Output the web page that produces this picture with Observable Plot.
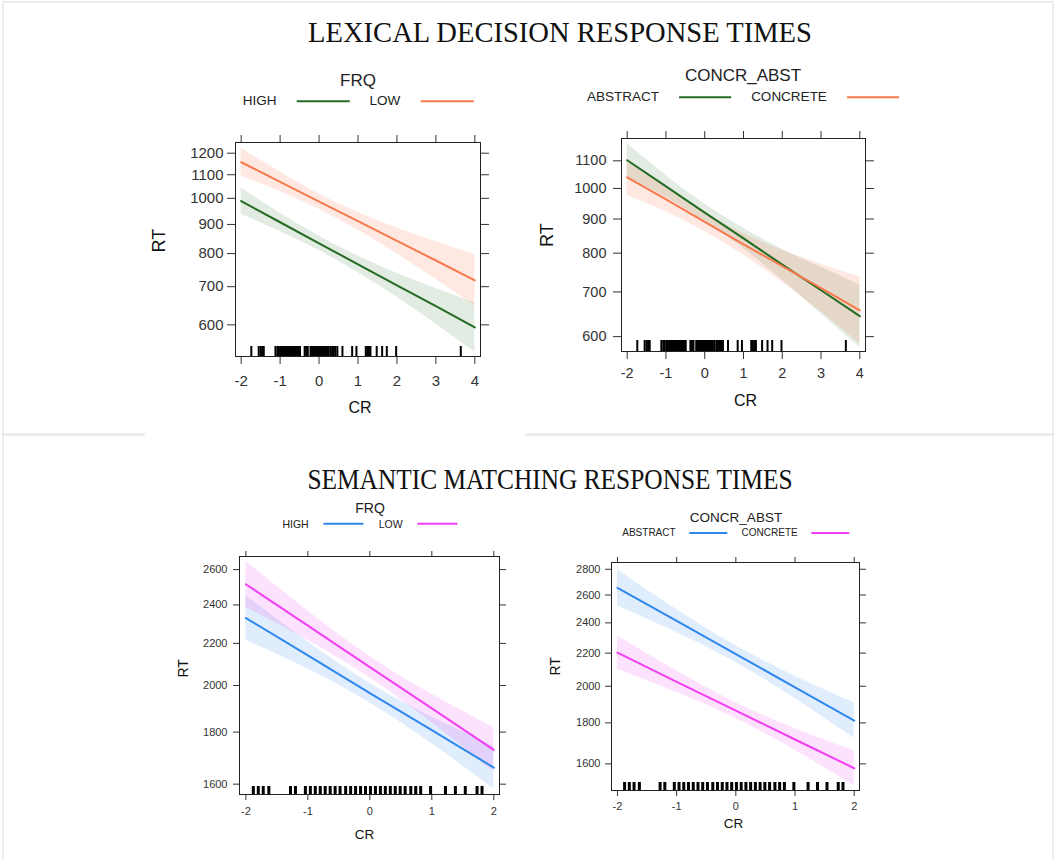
<!DOCTYPE html>
<html><head><meta charset="utf-8">
<script src="https://cdn.jsdelivr.net/npm/d3@7"></script>
<script src="https://cdn.jsdelivr.net/npm/@observablehq/plot@0.6"></script>
<style>
body{margin:0;background:#fff;}
#root{position:relative;width:1055px;height:859px;overflow:hidden;font-family:"Liberation Sans",Arial,sans-serif;color:#333;}
.abs{position:absolute;}
.title{font-family:"Liberation Serif","Times New Roman",serif;color:#111;white-space:nowrap;line-height:1;}
.lgt{white-space:nowrap;transform:translate(-50%,-50%);line-height:1;color:#222;}
.lgr{display:flex;align-items:center;white-space:nowrap;transform:translate(-50%,-50%);line-height:1;color:#222;}
.sw{display:inline-block;height:2px;}
</style></head>
<body><div id="root"></div>
<script>
// ---------- DATA ----------
const lexX = [-2, -1, 0, 1, 2, 3, 4];
const lexXTicks = [-2, -1, 0, 1, 2, 3, 4];
const lexFrqYTicks = [600, 700, 800, 900, 1000, 1100, 1200];
const lexCaYTicks = [600, 700, 800, 900, 1000, 1100];

const lexFrqHighFit = [989, 908, 834, 766, 704, 647, 594];
const lexFrqHighLo  = [938, 875, 810, 741, 671, 602, 537];
const lexFrqHighHi  = [1043, 942, 859, 792, 739, 695, 656];
const lexFrqLowFit  = [1157, 1069, 987, 912, 842, 778, 718];
const lexFrqLowLo   = [1094, 1028, 957, 880, 799, 721, 648];
const lexFrqLowHi   = [1224, 1112, 1018, 945, 887, 839, 796];

const lexCaAbsFit = [1102, 1007, 920, 842, 769, 704, 644];
const lexCaAbsLo  = [1041, 969, 893, 813, 729, 650, 578];
const lexCaAbsHi  = [1167, 1046, 948, 872, 811, 762, 717];
const lexCaConFit = [1039, 963, 891, 825, 765, 709, 657];
const lexCaConLo  = [977, 923, 862, 795, 724, 653, 586];
const lexCaConHi  = [1105, 1004, 921, 856, 808, 770, 737];

const lexRugCR = [-1.74, -1.55, -1.5, -1.46, -1.42, -1.12, -1.07, -1.03, -0.98, -0.95, -0.91, -0.88, -0.86, -0.83, -0.8, -0.78, -0.75, -0.72, -0.69, -0.66, -0.63, -0.6, -0.57, -0.54, -0.52, -0.49, -0.37, -0.33, -0.29, -0.22, -0.19, -0.16, -0.13, -0.1, -0.07, -0.05, -0.02, 0.01, 0.04, 0.07, 0.1, 0.12, 0.15, 0.18, 0.21, 0.25, 0.3, 0.34, 0.38, 0.42, 0.47, 0.6, 0.85, 0.96, 1.2, 1.24, 1.28, 1.32, 1.48, 1.62, 1.74, 1.98, 3.64];

const semX = [-2, -1, 0, 1, 2];
const semXTicks = [-2, -1, 0, 1, 2];
const semFrqYTicks = [1600, 1800, 2000, 2200, 2400, 2600];
const semCaYTicks = [1600, 1800, 2000, 2200, 2400, 2600, 2800];

const semFrqHighFit = [2330, 2141, 1966, 1808, 1661];
const semFrqHighLo  = [2216, 2076, 1923, 1754, 1583];
const semFrqHighHi  = [2450, 2208, 2010, 1863, 1743];
const semFrqLowFit  = [2515, 2290, 2085, 1899, 1729];
const semFrqLowLo   = [2388, 2216, 2036, 1839, 1645];
const semFrqLowHi   = [2649, 2367, 2136, 1961, 1818];

const semCaAbsFit = [2655, 2413, 2194, 1994, 1812];
const semCaAbsLo  = [2520, 2335, 2142, 1931, 1722];
const semCaAbsHi  = [2797, 2494, 2247, 2059, 1907];
const semCaConFit = [2203, 2026, 1865, 1716, 1580];
const semCaConLo  = [2100, 1964, 1823, 1664, 1503];
const semCaConHi  = [2311, 2090, 1908, 1770, 1661];

const semRugCR = [-1.88, -1.80, -1.72, -1.63, -1.28, -1.20, -1.04, -0.96, -0.88, -0.80, -0.72, -0.64, -0.56, -0.48, -0.39, -0.31, -0.23, -0.15, -0.07, 0.01, 0.09, 0.17, 0.25, 0.33, 0.41, 0.49, 0.57, 0.66, 0.74, 0.82, 0.98, 1.22, 1.38, 1.54, 1.73, 1.81];

const green = "#236b23", orange = "#f7794c", blue = "#2e88ee", magenta = "#f23ff2";

// ---------- LAYOUT ----------
const root = document.getElementById("root");
function div(cls, css, html) {
  const d = document.createElement("div");
  d.className = cls;
  Object.assign(d.style, css);
  if (html != null) d.innerHTML = html;
  root.appendChild(d);
  return d;
}
// page frames
div("abs", {left:"2px", top:"1px", width:"1052px", height:"434px", border:"2px solid #ececec", boxSizing:"border-box"});
div("abs", {left:"2px", top:"434px", width:"1052px", height:"440px", border:"2px solid #ececec", boxSizing:"border-box"});
div("abs", {left:"145px", top:"433px", width:"380px", height:"3px", background:"#fff"});

div("abs title", {left:"560px", top:"32px", fontSize:"29px", transform:"translate(-50%,-50%) scaleX(0.985)"}, "LEXICAL DECISION RESPONSE TIMES");
div("abs title", {left:"550px", top:"479px", fontSize:"29px", transform:"translate(-50%,-50%) scaleX(0.875)"}, "SEMANTIC MATCHING RESPONSE TIMES");

function legend(o) {
  div("abs lgt", {left:o.cx+"px", top:o.titleY+"px", fontSize:o.titleSize+"px"}, o.title);
  const row = div("abs lgr", {left:o.cx+"px", top:o.rowY+"px", fontSize:o.labelSize+"px"});
  o.items.forEach((it, i) => {
    const s = document.createElement("span"); s.textContent = it.label; row.appendChild(s);
    const w = document.createElement("span"); w.className = "sw";
    Object.assign(w.style, {width:o.lineW+"px", background:it.color, marginLeft:o.gap+"px", marginRight:(i < o.items.length-1 ? o.gap : 0)+"px"});
    row.appendChild(w);
  });
}

function panel(c) {
  const [fx, fy, fw, fh] = c.frame;
  const mL = 110, mR = 30, mT = 20, mB = 80;
  const marks = [];
  c.series.forEach(s => {
    const d = c.x.map((x, i) => ({x, lo: s.lo[i], hi: s.hi[i]}));
    marks.push(Plot.areaY(d, {x: "x", y1: "lo", y2: "hi", fill: s.color, fillOpacity: s.op, curve: "natural", clip: true}));
  });
  c.series.forEach(s => {
    const d = c.x.map((x, i) => ({x, y: s.fit[i]}));
    marks.push(Plot.lineY(d, {x: "x", y: "y", stroke: s.color, strokeWidth: 2, clip: true}));
  });
  marks.push(Plot.ruleX(c.rug, {x: d => d, insetTop: fh - c.rugH, stroke: "#000", strokeWidth: c.rugW}));
  marks.push(Plot.axisX({anchor: "bottom", ticks: c.xTicks, tickSize: c.tick, tickPadding: c.xPad, tickFormat: d => String(d), label: null, fontSize: c.fs}));
  marks.push(Plot.axisX({anchor: "top", ticks: c.xTicks, tickSize: c.tick, tickFormat: () => "", label: null}));
  marks.push(Plot.axisY({anchor: "left", ticks: c.yTicks, tickSize: c.tick, tickPadding: c.yPad, tickFormat: d => String(d), label: null, fontSize: c.fs}));
  marks.push(Plot.axisY({anchor: "right", ticks: c.yTicks, tickSize: c.tick, tickFormat: () => "", label: null}));
  marks.push(Plot.frame({stroke: "#222"}));
  marks.push(Plot.text(["RT"], {text: d => d, frameAnchor: "left", dx: c.rt[0], dy: c.rt[1], rotate: -90, fontSize: c.rfs, fill: "#111"}));
  marks.push(Plot.text(["CR"], {text: d => d, frameAnchor: "bottom", dx: c.cr[0], dy: c.cr[1], fontSize: c.lfs, fill: "#111"}));
  const svg = Plot.plot({
    width: fw + mL + mR, height: fh + mT + mB,
    marginLeft: mL, marginRight: mR, marginTop: mT, marginBottom: mB,
    x: {domain: c.xDomain},
    y: {type: "log", domain: c.yDomain},
    style: {fontFamily: "'Liberation Sans', Arial, sans-serif", color: "#333", background: "transparent", overflow: "visible"},
    marks
  });
  svg.style.position = "absolute";
  svg.style.left = (fx - mL) + "px";
  svg.style.top = (fy - mT) + "px";
  root.appendChild(svg);
}

// Top-left: lexical, FRQ
legend({cx: 358, titleY: 80, rowY: 101, title: "FRQ", titleSize: 17, labelSize: 13.5, lineW: 53, gap: 20,
  items: [{label: "HIGH", color: green}, {label: "LOW", color: orange}]});
panel({frame: [235, 142, 245, 214], x: lexX, xDomain: [-2.146, 4.146], yDomain: [528, 1253],
  xTicks: lexXTicks, yTicks: lexFrqYTicks, tick: 8, xPad: 11, yPad: 4, fs: 15, lfs: 16, rfs: 18,
  rt: [-76, 3], cr: [2, 56], rug: lexRugCR, rugH: 10, rugW: 2,
  series: [
    {fit: lexFrqHighFit, lo: lexFrqHighLo, hi: lexFrqHighHi, color: green, op: 0.13},
    {fit: lexFrqLowFit, lo: lexFrqLowLo, hi: lexFrqLowHi, color: orange, op: 0.17}
  ]});

// Top-right: lexical, CONCR_ABST
legend({cx: 743, titleY: 75, rowY: 97, title: "CONCR_ABST", titleSize: 17, labelSize: 13.5, lineW: 52, gap: 20,
  items: [{label: "ABSTRACT", color: green}, {label: "CONCRETE", color: orange}]});
panel({frame: [621, 138, 244, 213], x: lexX, xDomain: [-2.147, 4.147], yDomain: [570, 1188],
  xTicks: lexXTicks, yTicks: lexCaYTicks, tick: 8, xPad: 8, yPad: 7, fs: 14.5, lfs: 16, rfs: 18,
  rt: [-74, 2], cr: [2, 54], rug: lexRugCR, rugH: 11, rugW: 2,
  series: [
    {fit: lexCaAbsFit, lo: lexCaAbsLo, hi: lexCaAbsHi, color: green, op: 0.13},
    {fit: lexCaConFit, lo: lexCaConLo, hi: lexCaConHi, color: orange, op: 0.17}
  ]});

// Bottom-left: semantic, FRQ
legend({cx: 370, titleY: 508, rowY: 524, title: "FRQ", titleSize: 14, labelSize: 10.5, lineW: 40, gap: 15,
  items: [{label: "HIGH", color: blue}, {label: "LOW", color: magenta}]});
panel({frame: [239, 556, 260, 238], x: semX, xDomain: [-2.103, 2.092], yDomain: [1563, 2678],
  xTicks: semXTicks, yTicks: semFrqYTicks, tick: 6, xPad: 7, yPad: 6, fs: 11, lfs: 13.5, rfs: 14,
  rt: [-56, 2], cr: [-5, 44], rug: semRugCR, rugH: 8, rugW: 3,
  series: [
    {fit: semFrqHighFit, lo: semFrqHighLo, hi: semFrqHighHi, color: blue, op: 0.15},
    {fit: semFrqLowFit, lo: semFrqLowLo, hi: semFrqLowHi, color: magenta, op: 0.15}
  ]});

// Bottom-right: semantic, CONCR_ABST
legend({cx: 736, titleY: 518, rowY: 533, title: "CONCR_ABST", titleSize: 13.5, labelSize: 10, lineW: 38, gap: 14,
  items: [{label: "ABSTRACT", color: blue}, {label: "CONCRETE", color: magenta}]});
panel({frame: [611, 562, 248, 228], x: semX, xDomain: [-2.101, 2.089], yDomain: [1482, 2855],
  xTicks: semXTicks, yTicks: semCaYTicks, tick: 6, xPad: 6, yPad: 5, fs: 11, lfs: 13.5, rfs: 14,
  rt: [-56, -1], cr: [-2, 37], rug: semRugCR, rugH: 8, rugW: 3,
  series: [
    {fit: semCaAbsFit, lo: semCaAbsLo, hi: semCaAbsHi, color: blue, op: 0.15},
    {fit: semCaConFit, lo: semCaConLo, hi: semCaConHi, color: magenta, op: 0.15}
  ]});
</script>
</body></html>
